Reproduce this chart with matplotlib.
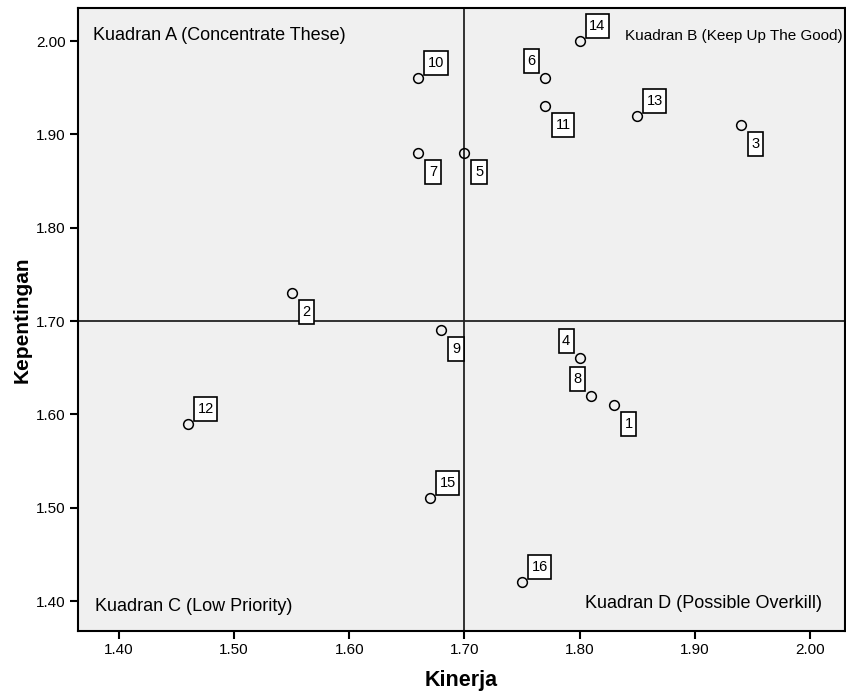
import matplotlib
matplotlib.use("Agg")
import matplotlib.pyplot as plt
from matplotlib.path import Path

plt.rcParams['font.family'] = ['Liberation Sans', 'DejaVu Sans']

# data
nomor = ["1", "2", "3", "4", "5", "6", "7", "8", "9", "10", "11", "12", "13", "14", "15", "16"]
kinerja = [1.83, 1.55, 1.94, 1.80, 1.70, 1.77, 1.66, 1.81, 1.68, 1.66, 1.77, 1.46, 1.85, 1.80, 1.67, 1.75]
kepentingan = [1.61, 1.73, 1.91, 1.66, 1.88, 1.96, 1.88, 1.62, 1.69, 1.96, 1.93, 1.59, 1.92, 2.00, 1.51, 1.42]
rata_x = 1.70
rata_y = 1.70
ticks = [1.40, 1.50, 1.60, 1.70, 1.80, 1.90, 2.00]

# posisi label (ur = kanan atas, lr = kanan bawah, ul = kiri atas)
posisi = {"1": "lr", "2": "lr", "3": "lr", "4": "ul", "5": "lr", "6": "ul",
          "7": "lr", "8": "ul", "9": "lr", "10": "ur", "11": "lr", "12": "ur",
          "13": "ur", "14": "ur", "15": "ur", "16": "ur"}
PADX, PADY = 3.5, 5.0   # pixel
gaya = {"ur": ((6 + PADX, 3 + PADY), "left", "bottom"),
        "lr": ((7 + PADX, -7 - PADY), "left", "top"),
        "ul": ((-6 - PADX, 5 + PADY), "right", "bottom")}


def kotak(x0, y0, width, height, mutation_size):
    x0, y0 = x0 - PADX, y0 - PADY
    x1, y1 = x0 + width + 2 * PADX, y0 + height + 2 * PADY
    return Path([(x0, y0), (x1, y0), (x1, y1), (x0, y1), (x0, y0)],
                [Path.MOVETO, Path.LINETO, Path.LINETO, Path.LINETO, Path.CLOSEPOLY])


fig = plt.figure(figsize=(8.46, 6.93), dpi=100)
ax = fig.add_axes([0.0922, 0.0895, 0.9066, 0.899])
ax.set_facecolor("#F0F0F0")

ax.axvline(rata_x, color="#222222", lw=1.3, zorder=1)
ax.axhline(rata_y, color="#222222", lw=1.3, zorder=1)

ax.plot(kinerja, kepentingan, linestyle="none", marker="o", markersize=7,
        markerfacecolor="none", markeredgecolor="black", markeredgewidth=1.1, zorder=3)

for n, x, y in zip(nomor, kinerja, kepentingan):
    off, ha, va = gaya[posisi[n]]
    ax.annotate(n, (x, y), xytext=off, textcoords="offset pixels", ha=ha, va=va,
                fontsize=10.5, zorder=4,
                bbox=dict(boxstyle=kotak, fc="white", ec="black", lw=1.2))

ax.text(0.02, 0.97, "Kuadran A (Concentrate These)", transform=ax.transAxes,
        fontsize=13, ha="left", va="top")
ax.text(0.997, 0.967, "Kuadran B (Keep Up The Good)", transform=ax.transAxes,
        fontsize=11, ha="right", va="top")
ax.text(0.022, 0.026, "Kuadran C (Low Priority)", transform=ax.transAxes,
        fontsize=13, ha="left", va="bottom")
ax.text(0.97, 0.031, "Kuadran D (Possible Overkill)", transform=ax.transAxes,
        fontsize=13, ha="right", va="bottom")

ax.set_xlim(1.3644, 2.0304)
ax.set_ylim(1.3679, 2.0354)
ax.set_xticks(ticks)
ax.set_yticks(ticks)
ax.set_xticklabels(["%.2f" % t for t in ticks], fontsize=11)
ax.set_yticklabels(["%.2f" % t for t in ticks], fontsize=11)
ax.tick_params(direction="out", length=6, width=1.5, pad=3)
for s in ax.spines.values():
    s.set_linewidth(1.5)

ax.set_xlabel("Kinerja", fontsize=15.5, fontweight="bold", labelpad=9)
ax.set_ylabel("Kepentingan", fontsize=15, fontweight="bold", labelpad=3)

fig.savefig("out.png", dpi=100)
